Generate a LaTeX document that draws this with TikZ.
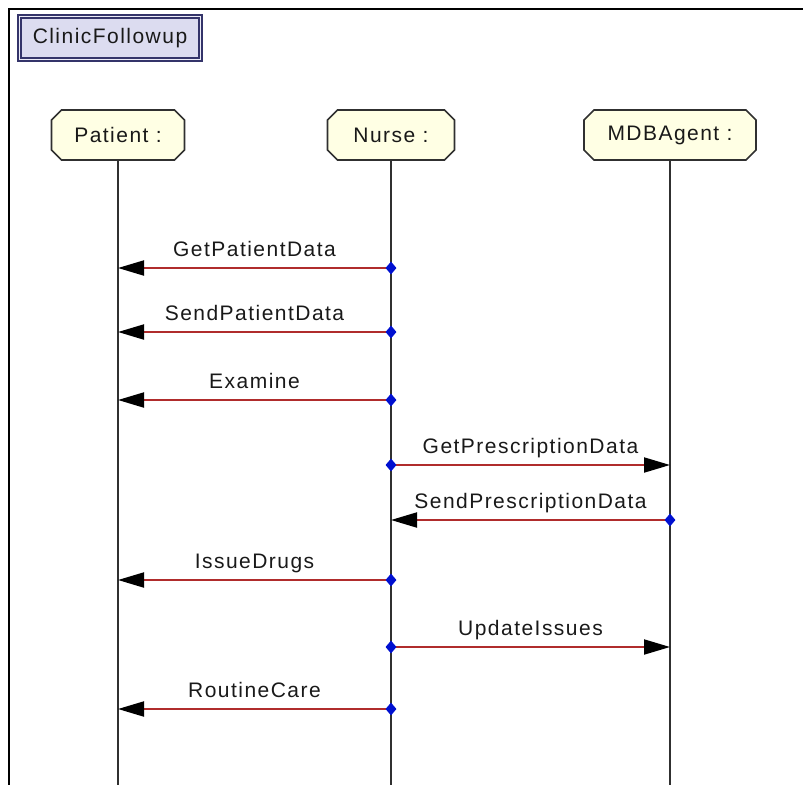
\documentclass[tikz,border=0pt]{standalone}
\usepackage{fontspec}
\newfontfamily\umlfont[LetterSpace=7]{Liberation Sans}
\usetikzlibrary{arrows.meta,shapes.misc,shapes.geometric}
\definecolor{myRed}{HTML}{B02C2C}
\definecolor{myBlue}{HTML}{0010D0}
\definecolor{myNavy}{HTML}{34346A}
\definecolor{myLila}{HTML}{DCDCF0}
\definecolor{myGelb}{HTML}{FFFFE4}
\definecolor{myGrau}{HTML}{303030}

\begin{document}
\begin{tikzpicture}[x=1pt, y=-1pt,
	font=\umlfont\fontsize{21}{24}\selectfont, text=black!90]
	\tikzset{titel/.style = {draw=myNavy, line width=2pt, double=myLila!50, double distance=1.6pt,
			fill=myLila, minimum width=181pt, minimum height=43pt, inner sep=0pt}}
	\tikzset{objekt/.style = {chamfered rectangle, chamfered rectangle xsep=5pt, chamfered rectangle ysep=5pt,
			draw=myGrau, line width=1.6pt, fill=myGelb, minimum height=50pt, inner sep=0pt}}
	\tikzset{lebenslinie/.style = {draw=myGrau, line width=1.8pt}}
	\tikzset{nachricht/.style = {draw=myRed, line width=2pt, -{Triangle[length=26pt, width=15pt, color=black]}}}
	\tikzset{beschriftung/.style = {anchor=base, yshift=11.5pt, inner sep=0pt}}
	\tikzset{punkt/.style = {diamond, fill=myBlue, inner sep=0pt, minimum width=11pt, minimum height=13pt}}
	
	\useasboundingbox (0,0) rectangle (803,785);
	
	% Rahmen
	\draw[line width=2.8pt] (803,9) -- (9,9) -- (9,785);
	\node[titel] (titel) at (110,38) {ClinicFollowup};
	
	% Objekte
	\node[objekt, minimum width=133pt] (patient) at (118,135) {Patient :};
	\node[objekt, minimum width=127pt] (nurse) at (391,135) {Nurse :};
	\node[objekt, minimum width=172pt] (mdb) at (670,135) {MDBAgent :};
	
	\coordinate (p-ende) at (118,785);
	\coordinate (n-ende) at (391,785);
	\coordinate (m-ende) at (670,785);
	
	% Lebenslinien
	\draw[lebenslinie] (patient) -- (p-ende);
	\draw[lebenslinie] (nurse) -- (n-ende);
	\draw[lebenslinie] (mdb) -- (m-ende);
	
	\foreach \n/\y in {1/268,2/332,3/400,4/465,5/520,6/580,7/647,8/709} {
		\coordinate (p\n) at (118,\y);
		\coordinate (n\n) at (391,\y);
		\coordinate (m\n) at (670,\y);
	}
	
	% Nachrichten
	\draw[nachricht] (n1) -- node[beschriftung] {GetPatientData} (p1);
	\draw[nachricht] (n2) -- node[beschriftung] {SendPatientData} (p2);
	\draw[nachricht] (n3) -- node[beschriftung] {Examine} (p3);
	\draw[nachricht] (n4) -- node[beschriftung] {GetPrescriptionData} (m4);
	\draw[nachricht] (m5) -- node[beschriftung] {SendPrescriptionData} (n5);
	\draw[nachricht] (n6) -- node[beschriftung] {IssueDrugs} (p6);
	\draw[nachricht] (n7) -- node[beschriftung] {UpdateIssues} (m7);
	\draw[nachricht] (n8) -- node[beschriftung] {RoutineCare} (p8);
	
	% Startpunkte
	\foreach \q in {n1,n2,n3,n4,m5,n6,n7,n8}
		\node[punkt] (s-\q) at (\q) {};
	
\end{tikzpicture}
\end{document}
